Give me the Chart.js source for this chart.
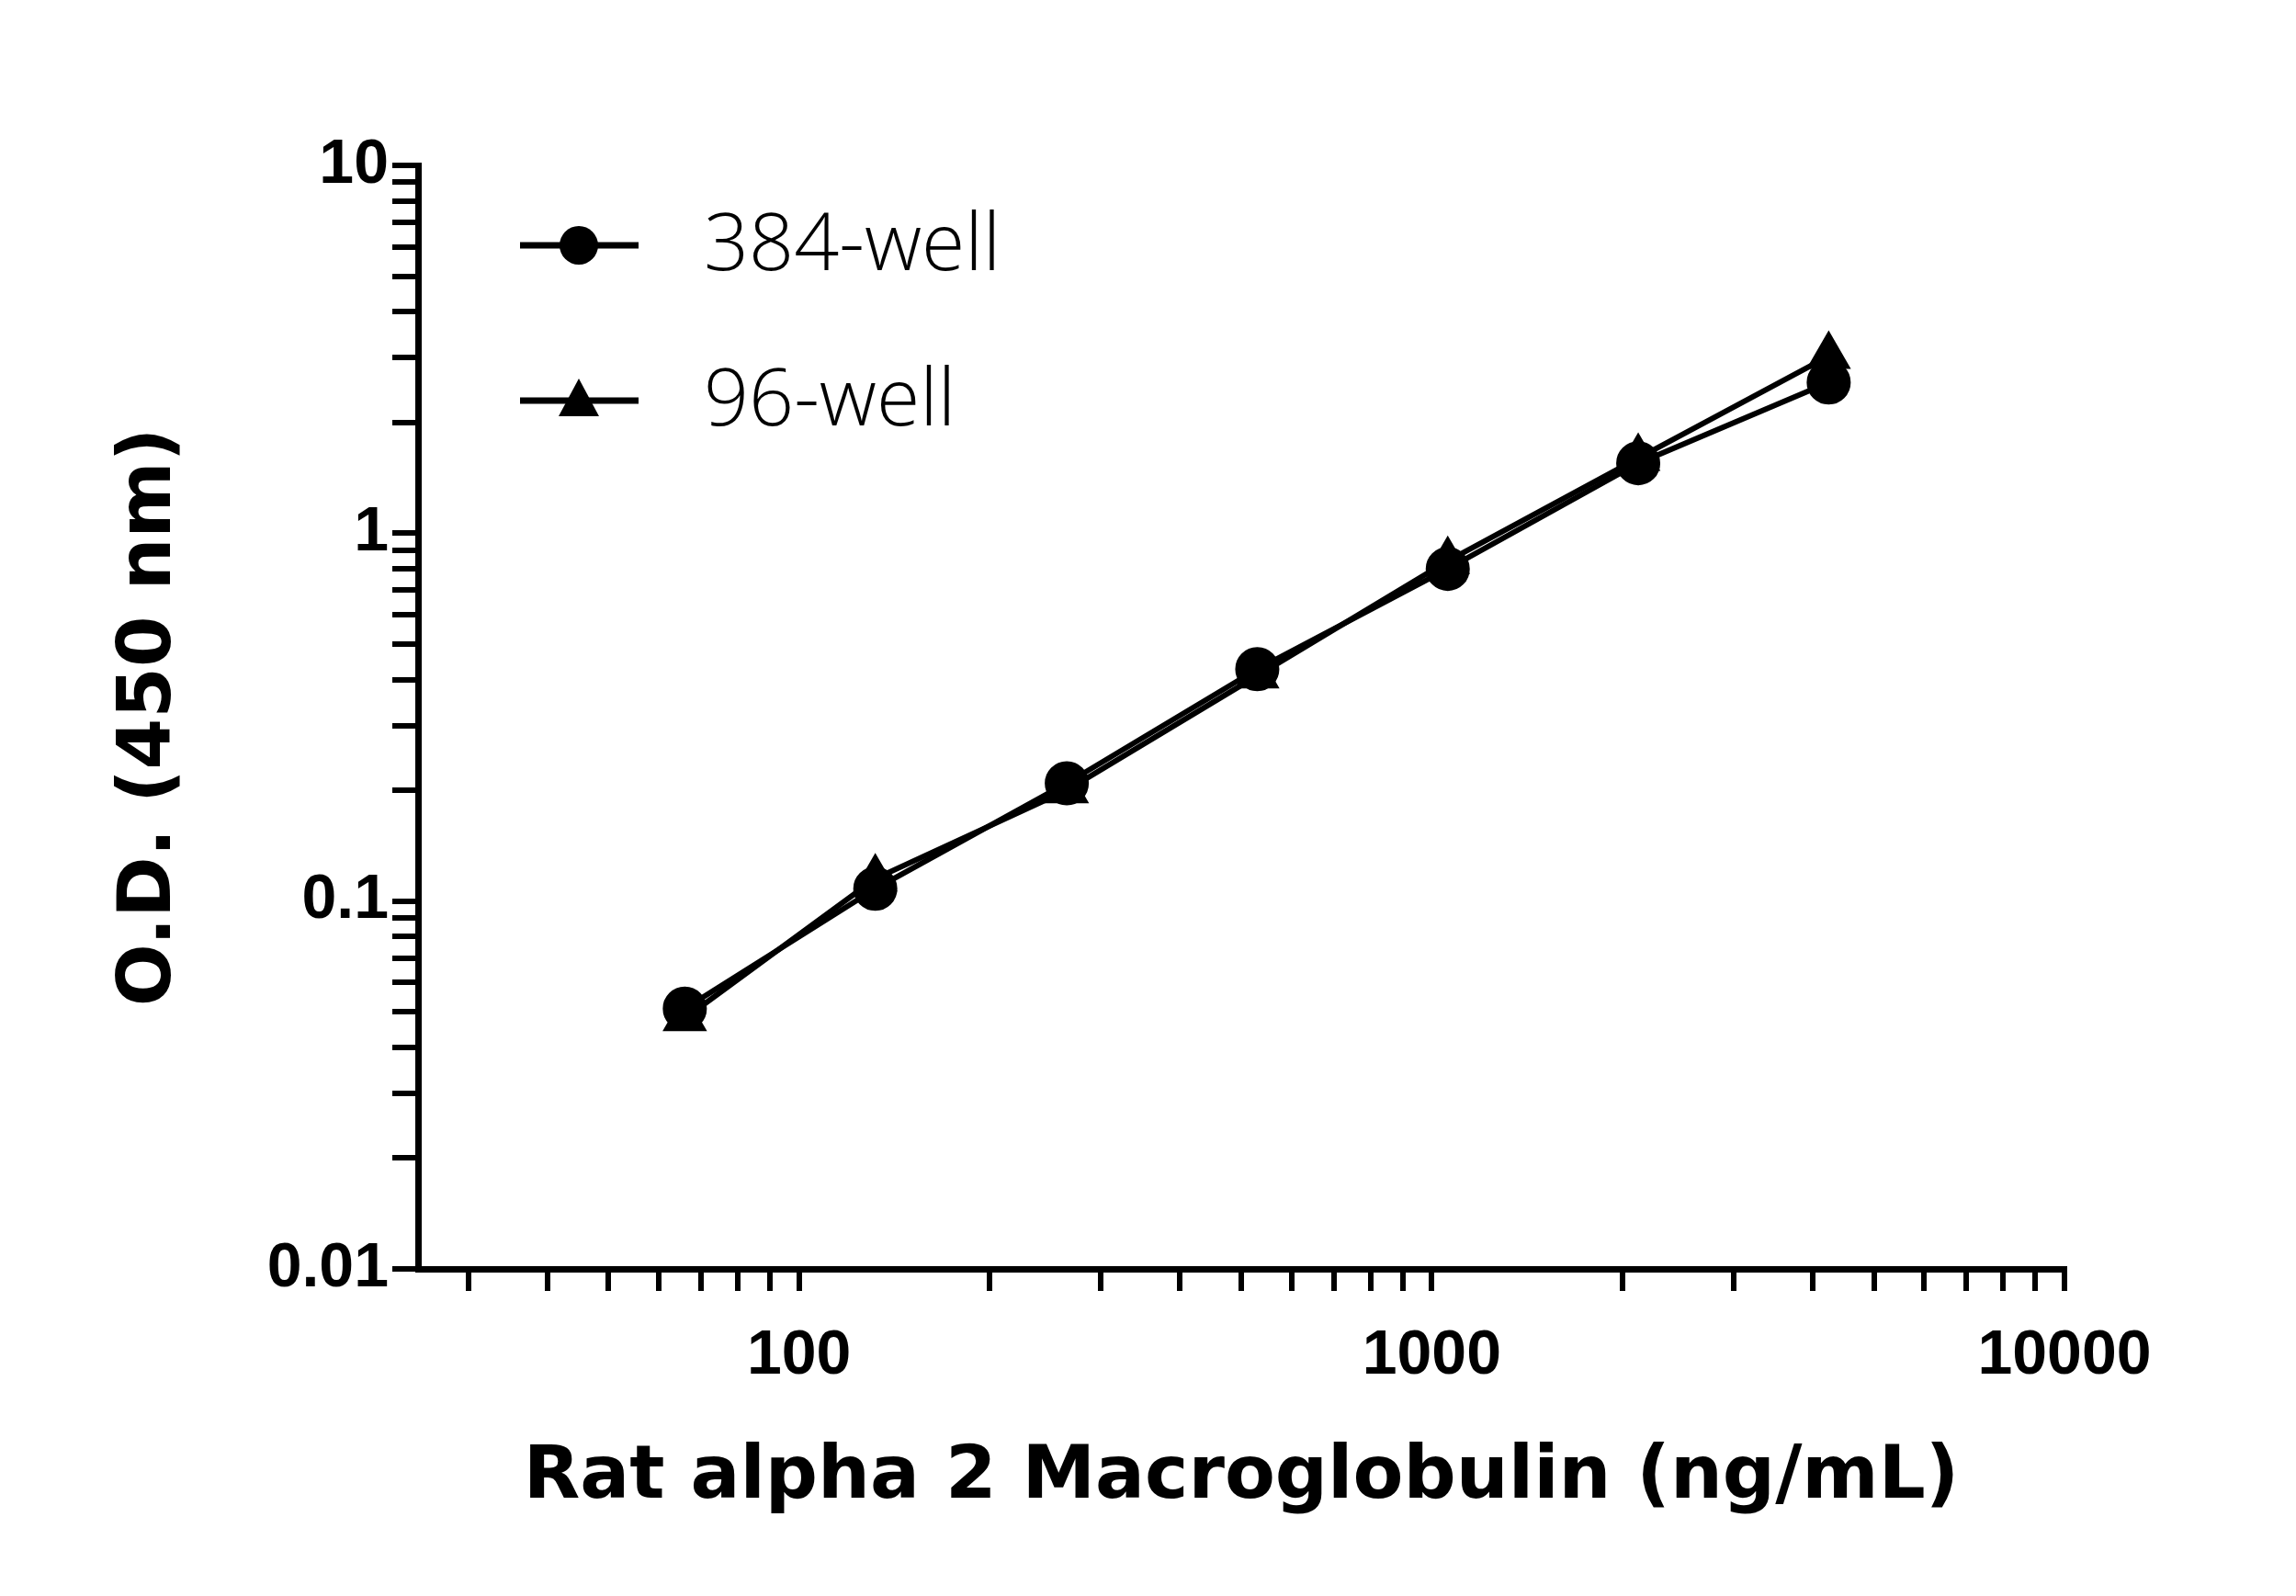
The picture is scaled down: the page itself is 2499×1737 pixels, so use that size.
<!DOCTYPE html>
<html>
<head>
<meta charset="utf-8">
<script src="https://cdn.jsdelivr.net/npm/chart.js@4"></script>
<style>
  html, body { margin: 0; padding: 0; background: #fff; }
  #wrap { width: 2499px; height: 1737px; }
</style>
</head>
<body>
<div id="wrap"><canvas id="myChart"></canvas></div>
<script>
// concentrations (ng/mL) and O.D. readings
const conc = [66, 132, 265, 530, 1060, 2120, 4240];
const od384 = [0.051, 0.108, 0.209, 0.427, 0.80, 1.55, 2.57];
const od96 = [0.048, 0.115, 0.200, 0.41, 0.84, 1.60, 3.03];
const seriesNames = ['384-well', '96-well'];

const xTicks = [30, 40, 50, 60, 70, 80, 90, 100, 200, 300, 400, 500, 600, 700, 800, 900,
    1000, 2000, 3000, 4000, 5000, 6000, 7000, 8000, 9000, 10000];
const yTicks = [];
[0.01, 0.1, 1].forEach(d => { for (let i = 1; i < 10; i++) yTicks.push(+(d * i).toPrecision(2)); });
yTicks.push(10);

const isMajor = v => Math.abs(Math.log10(v) - Math.round(Math.log10(v))) < 1e-9;

const tickFont = { family: '"Liberation Sans Narrow", "Liberation Sans", Arial', size: 68, weight: 'bold' };
const titleFont = { family: '"DejaVu Sans", "Noto Sans"', size: 80, weight: 'bold' };

// legend drawn inside the plot, top-left
const insideLegend = {
    id: 'insideLegend',
    afterDraw(chart) {
        const ctx = chart.ctx;
        const rows = [
            { y: 267, shape: 'circle' },
            { y: 436, shape: 'triangle' }
        ];
        ctx.save();
        rows.forEach((r, i) => {
            ctx.strokeStyle = '#000';
            ctx.lineWidth = 7;
            ctx.beginPath();
            ctx.moveTo(566, r.y);
            ctx.lineTo(695, r.y);
            ctx.stroke();
            ctx.fillStyle = '#000';
            ctx.beginPath();
            if (r.shape === 'circle') {
                ctx.arc(630, r.y, 21, 0, Math.PI * 2);
            } else {
                ctx.moveTo(630, r.y - 24);
                ctx.lineTo(652, r.y + 17);
                ctx.lineTo(608, r.y + 17);
                ctx.closePath();
            }
            ctx.fill();
            ctx.font = '300 86px "Open Sans", "DejaVu Sans"';
            ctx.textBaseline = 'middle';
            ctx.fillText(seriesNames[i], 766, r.y + 2);
        });
        ctx.restore();
    }
};

const data = {
    datasets: [{
        label: seriesNames[0],
        data: conc.map((c, i) => ({ x: c, y: od384[i] })),
        borderColor: '#000',
        backgroundColor: '#000',
        borderWidth: 6,
        pointStyle: 'circle',
        pointRadius: 21,
        pointHoverRadius: 21
    }, {
        label: seriesNames[1],
        data: conc.map((c, i) => ({ x: c, y: od96[i] })),
        borderColor: '#000',
        backgroundColor: '#000',
        borderWidth: 6,
        pointStyle: 'triangle',
        pointRadius: 22,
        pointHoverRadius: 22
    }]
};

const config = {
    type: 'line',
    data: data,
    plugins: [insideLegend],
    options: {
        responsive: true,
        maintainAspectRatio: false,
        animation: false,
        layout: { padding: { top: 180, right: 252, left: 0, bottom: 0 } },
        plugins: { legend: { display: false }, tooltip: { enabled: false } },
        scales: {
            x: {
                type: 'logarithmic',
                min: 25,
                max: 10000,
                afterBuildTicks: s => { s.ticks = xTicks.map(v => ({ value: v })); },
                afterFit: s => { s.height = 356; },
                border: { color: '#000', width: 7 },
                grid: { drawOnChartArea: false, color: '#000', lineWidth: 6, tickLength: 24 },
                ticks: {
                    color: '#000', font: tickFont, padding: 30, autoSkip: false, maxRotation: 0,
                    callback: v => isMajor(v) ? String(v) : ''
                },
                title: {
                    display: true, text: 'Rat alpha 2 Macroglobulin (ng/mL)',
                    color: '#000', font: titleFont, padding: { top: 0, bottom: 80 }
                }
            },
            y: {
                type: 'logarithmic',
                min: 0.01,
                max: 10,
                afterBuildTicks: s => { s.ticks = yTicks.map(v => ({ value: v })); },
                afterFit: s => { s.width = 455; },
                border: { color: '#000', width: 7 },
                grid: { drawOnChartArea: false, color: '#000', lineWidth: 6, tickLength: 28 },
                ticks: {
                    color: '#000', font: tickFont, padding: 4, autoSkip: false,
                    callback: v => isMajor(v) ? String(+v.toPrecision(2)) : ''
                },
                title: {
                    display: true, text: 'O.D. (450 nm)',
                    color: '#000', font: titleFont, padding: { top: 116, bottom: 0 }
                }
            }
        }
    }
};

const myChart = new Chart(document.getElementById('myChart'), config);
</script>
</body>
</html>
